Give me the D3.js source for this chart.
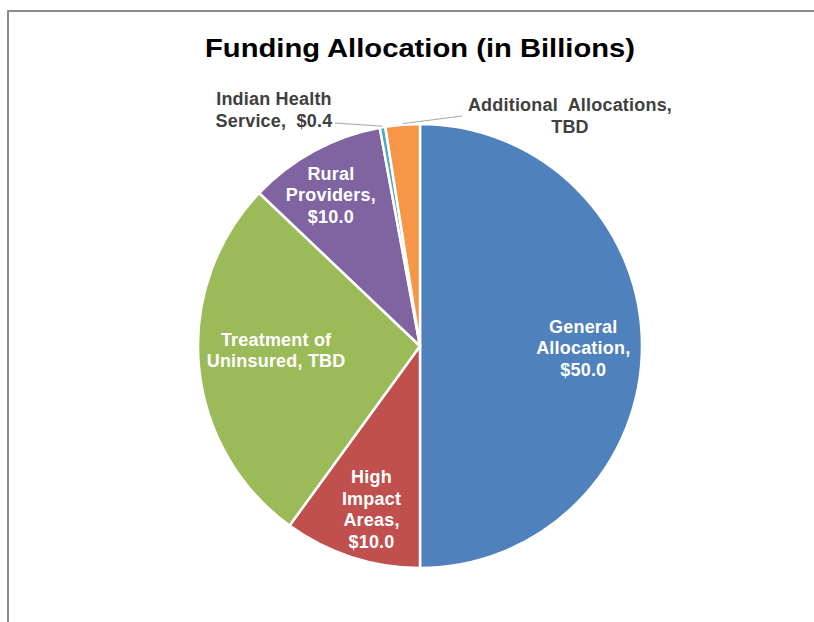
<!DOCTYPE html>
<html><head><meta charset="utf-8">
<script src="https://cdn.jsdelivr.net/npm/d3@7"></script>
<style>body{margin:0;background:#fff}svg{display:block}</style>
</head><body>
<svg id="c" width="814" height="622"></svg>
<script>
const categories = ["General Allocation","High Impact Areas","Treatment of Uninsured","Rural Providers","Indian Health Service","Additional Allocations"];
const values = [50.0, 10.0, 27.1, 10.0, 0.4, 2.5];
const valueLabels = ["$50.0","$10.0","TBD","$10.0","$0.4","TBD"];
const colors = ["#4F81BD","#C0504D","#9BBB59","#8064A2","#4BACC6","#F79646"];
const labelLines = [
  ["General","Allocation,","$50.0"],
  ["High","Impact","Areas,","$10.0"],
  ["Treatment of","Uninsured, TBD"],
  ["Rural","Providers,","$10.0"],
  ["Indian Health","Service,  $0.4"],
  ["Additional  Allocations,","TBD"]
];

const svg = d3.select("#c");
const font = "'Liberation Sans', Arial, sans-serif";
// frame
svg.append("line").attr("x1",7).attr("y1",11).attr("x2",814).attr("y2",11).attr("stroke","#8c8c8c").attr("stroke-width",2);
svg.append("line").attr("x1",8).attr("y1",10).attr("x2",8).attr("y2",622).attr("stroke","#8c8c8c").attr("stroke-width",2);

svg.append("text").attr("x",420).attr("y",57).attr("text-anchor","middle")
  .attr("font-family",font).attr("font-weight","bold").attr("font-size",26.5).attr("fill","#000")
  .attr("textLength",430).attr("lengthAdjust","spacingAndGlyphs")
  .text("Funding Allocation (in Billions)");

const cx = 420, cy = 346, r = 222;
const pie = d3.pie().sort(null).value(d=>d)(values);
const arc = d3.arc().innerRadius(0).outerRadius(r);
const g = svg.append("g").attr("transform",`translate(${cx},${cy})`);
g.selectAll("path").data(pie).join("path")
  .attr("d",arc).attr("fill",(d,i)=>colors[i])
  .attr("stroke","#fff").attr("stroke-width",2.5).attr("stroke-linejoin","round");

// inside label offsets (fine-tuning relative to the centroid-based anchor)
const inside = [
  {i:0, rf:0.74, ox:-1, oy:2},
  {i:1, rf:0.78, ox:5, oy:-1},
  {i:2, rf:0.66, ox:2, oy:-9},
  {i:3, rf:0.72, ox:-13, oy:-10}
];
const lh = 21.5;
inside.forEach(o=>{
  const d = pie[o.i];
  const a = (d.startAngle+d.endAngle)/2;
  const x = Math.sin(a)*r*o.rf + o.ox, y = -Math.cos(a)*r*o.rf + o.oy;
  const lines = labelLines[o.i];
  const t = g.append("text").attr("text-anchor","middle").attr("font-family",font)
    .attr("font-weight","bold").attr("font-size",18).attr("letter-spacing",0.2).attr("fill","#fff");
  lines.forEach((s,k)=>{
    t.append("tspan").attr("x",x).attr("y",y + (k-(lines.length-1)/2)*lh + 6).text(s);
  });
});

// outside labels
function outsideLabel(i, tx, ty, lineStart, anchor){
  const d = pie[i];
  const a = (d.startAngle+d.endAngle)/2;
  const ex = cx + Math.sin(a)*(r+1), ey = cy - Math.cos(a)*(r+1);
  svg.append("line").attr("x1",lineStart[0]).attr("y1",lineStart[1]).attr("x2",ex).attr("y2",ey)
    .attr("stroke","#a6a6a6").attr("stroke-width",1);
  const t = svg.append("text").attr("text-anchor",anchor).attr("font-family",font)
    .attr("font-weight","bold").attr("font-size",18).attr("letter-spacing",0.2).attr("fill","#404040").style("white-space","pre");
  labelLines[i].forEach((s,k)=>{
    t.append("tspan").attr("x",tx).attr("y",ty + k*lh).text(s);
  });
}
outsideLabel(4, 274, 105, [335,123], "middle");
outsideLabel(5, 570, 111, [462,116], "middle");
</script>
</body></html>
